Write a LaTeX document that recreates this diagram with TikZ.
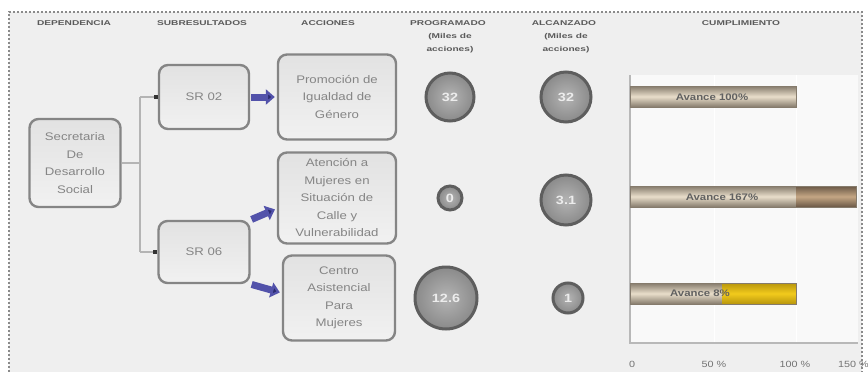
\documentclass[tikz,border=0pt]{standalone}
\usepackage{fontspec}
\setmainfont[FakeStretch=1.2]{Liberation Sans}
\newfontfamily\hdrfont[FakeStretch=1.45]{Liberation Sans}
\usetikzlibrary{arrows.meta,shadings}

\definecolor{panel}{HTML}{EFEFEF}
\definecolor{frame}{HTML}{8A8A8A}
\definecolor{boxedge}{HTML}{858585}
\definecolor{boxtext}{HTML}{858585}
\definecolor{boxtop}{HTML}{E2E2E2}
\definecolor{boxbot}{HTML}{F1F1F1}
\definecolor{linkgray}{HTML}{B4B4B4}
\definecolor{arrowblue}{HTML}{5252AA}
\definecolor{arrowdark}{HTML}{2A2A70}
\definecolor{discedge}{HTML}{5E5E5E}
\definecolor{discin}{HTML}{B4B4B4}
\definecolor{discout}{HTML}{8A8A8A}
\definecolor{bardark}{HTML}{857B6C}
\definecolor{barlight}{HTML}{E9DECB}
\definecolor{overdark}{HTML}{6A5846}
\definecolor{overlight}{HTML}{C4A684}
\definecolor{golddark}{HTML}{B8960C}
\definecolor{goldlight}{HTML}{F2CA1C}
\definecolor{axisgray}{HTML}{B8B8B8}
\definecolor{hdrtext}{HTML}{5A5A5A}

\begin{document}
\begin{tikzpicture}[x=1pt,y=-1pt,
  hdr/.style={font=\hdrfont\fontsize{7}{8}\selectfont\bfseries, text=hdrtext, inner sep=0pt},
  box/.style={draw=boxedge, line width=2.4pt, rounded corners=9pt,
    top color=boxtop, bottom color=boxbot, align=center, text=boxtext,
    font=\fontsize{11}{17.5}\selectfont, inner sep=1pt},
  disc/.style={circle, draw=discedge, line width=3pt, inner color=discin,
    outer color=discout, text=white!85!gray, font=\fontsize{12}{12}\selectfont\bfseries, inner sep=0pt},
  link/.style={draw=linkgray, line width=1.6pt},
  tip/.style={-{Square[length=4pt,width=3.5pt,black!80]}},
  blockarrow/.style={draw=arrowblue, line width=7pt,
    -{Triangle[length=9pt,width=15pt,fill=arrowdark]}, shorten <=1pt, shorten >=2pt},
  barlabel/.style={font=\fontsize{9.5}{10}\selectfont\bfseries, text=black!62, inner sep=0pt},
  ticklabel/.style={font=\fontsize{9}{10}\selectfont, text=black!55, inner sep=0pt}]

\useasboundingbox (0,0) rectangle (868,372);
\fill[white] (0,0) rectangle (868,372);

% panel with dotted frame
\fill[panel] (9,12) rectangle (862,380);
\draw[frame, line width=1.8pt, dash pattern=on 2pt off 2pt] (9,380) -- (9,12) -- (862,12) -- (862,380);

% column headings
\node[hdr] (h1) at (74,23) {DEPENDENCIA};
\node[hdr] (h2) at (202,23) {SUBRESULTADOS};
\node[hdr] (h3) at (328,23) {ACCIONES};
\node[hdr] (h4) at (448,23) {PROGRAMADO};
\node[hdr] (h4a) at (450,37) {(Miles de};
\node[hdr] (h4b) at (450,50) {acciones)};
\node[hdr] (h5) at (564,23) {ALCANZADO};
\node[hdr] (h5a) at (566,37) {(Miles de};
\node[hdr] (h5b) at (566,50) {acciones)};
\node[hdr] (h6) at (741,23) {CUMPLIMIENTO};

% organisation tree
\node[box, minimum width=91pt, minimum height=88pt] (sec) at (75,163)
  {Secretaria\\De\\Desarrollo\\Social};
\node[box, minimum width=90pt, minimum height=64pt] (sr02) at (204,97) {SR 02};
\node[box, minimum width=91pt, minimum height=62pt] (sr06) at (204,252) {SR 06};

\node[box, minimum width=118pt, minimum height=85pt] (prom) at (337,97)
  {Promoción de\\Igualdad de\\Género};
\node[box, minimum width=118pt, minimum height=91pt] (aten) at (337,198)
  {Atención a\\Mujeres en\\Situación de\\Calle y\\Vulnerabilidad};
\node[box, minimum width=112pt, minimum height=85pt] (cent) at (339,298)
  {Centro\\Asistencial\\Para\\Mujeres};

\coordinate (trunk) at (140,163);
\draw[link] (sec.east) -- (trunk);
\draw[link] (trunk |- sr02.west) -- (trunk |- sr06.west);
\draw[link, tip] (trunk |- sr02.west) -- (sr02.west);
\draw[link, tip] (trunk |- sr06.west) -- (sr06.west);

\draw[blockarrow] (sr02.east) -- (prom.west);
\draw[blockarrow] (sr06.north east) -- (aten.190);
\draw[blockarrow] (sr06.south east) -- (cent.175);

% programmed and achieved values
\node[disc, minimum size=48pt] (p1) at (450,97) {32};
\node[disc, minimum size=24pt] (p2) at (450,198) {0};
\node[disc, minimum size=62pt] (p3) at (446,298) {12.6};
\node[disc, minimum size=50pt] (a1) at (566,97) {32};
\node[disc, minimum size=50pt] (a2) at (566,200) {3.1};
\node[disc, minimum size=30pt] (a3) at (568,298) {1};

% compliance chart
\fill[white!60!panel] (630,75) rectangle (858,343);
\draw[white, line width=1pt] (714,75) -- (714,343) (796,75) -- (796,343);
\draw[axisgray, line width=1.6pt] (630,75) -- (630,343) -- (858,343);

\shade[top color=bardark, bottom color=bardark, middle color=barlight] (630,86) rectangle (796,107);
\draw[bardark, line width=0.8pt] (630,86) rectangle (796,107);
\node[barlabel] (b1) at (712,97) {Avance 100\%};

\shade[top color=bardark, bottom color=bardark, middle color=barlight] (630,186) rectangle (796,207);
\shade[top color=overdark, bottom color=overdark, middle color=overlight] (796,186) rectangle (856,207);
\draw[bardark, line width=0.8pt] (630,186) rectangle (856,207);
\node[barlabel] (b2) at (722,197) {Avance 167\%};

\shade[top color=bardark, bottom color=bardark, middle color=barlight] (630,283) rectangle (722,304);
\shade[top color=golddark, bottom color=golddark, middle color=goldlight] (722,283) rectangle (796,304);
\draw[bardark, line width=0.8pt] (630,283) rectangle (796,304);
\node[barlabel] (b3) at (700,293) {Avance 8\%};

\node[ticklabel] (t0) at (632,364) {0};
\node[ticklabel] (t50) at (714,364) {50 \%};
\node[ticklabel] (t100) at (795,364) {100 \%};
\node[ticklabel, anchor=west] (t150) at (838,364) {150 \%};
\end{tikzpicture}
\end{document}
